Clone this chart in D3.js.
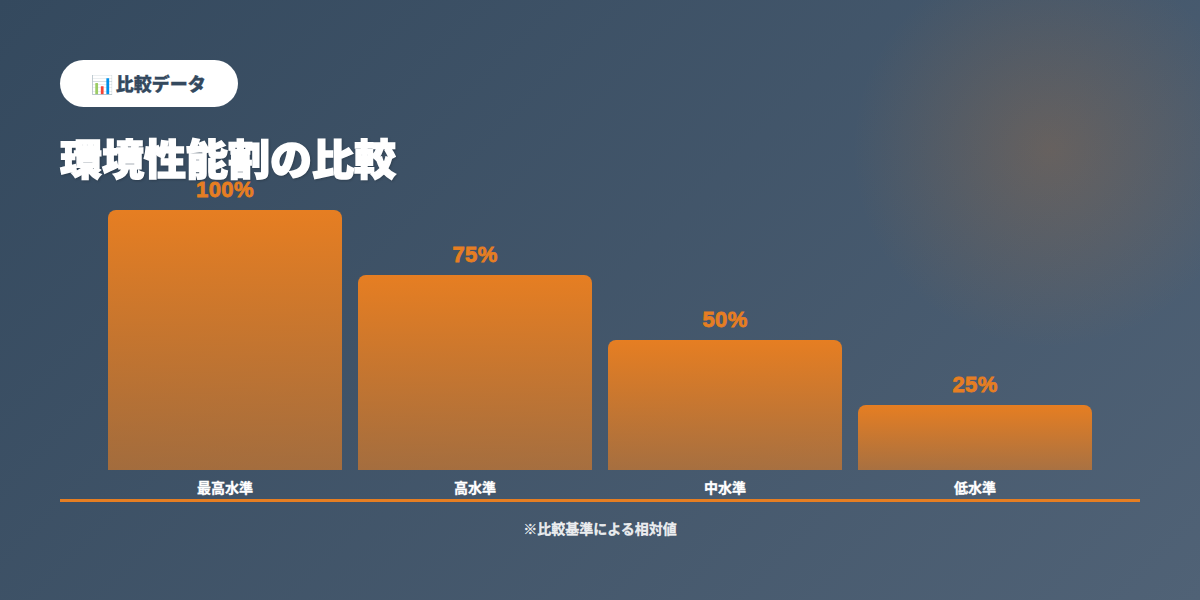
<!DOCTYPE html>
<html lang="ja">
<head>
<meta charset="utf-8">
<script src="https://cdn.jsdelivr.net/npm/d3@7"></script>
<style>
  html, body { margin: 0; padding: 0; background: #3a4f66; }
  svg { display: block; font-family: "Liberation Sans", "Noto Sans CJK JP", sans-serif; }
</style>
</head>
<body>
<svg id="chart"></svg>
<script>
const categories = ['最高水準', '高水準', '中水準', '低水準']
const values = [100, 75, 50, 25]
const valueLabels = ['100%', '75%', '50%', '25%']
const badgeText = '📊 比較データ'
const titleText = '環境性能割の比較'
const noteText = '※比較基準による相対値'

const width = 1200
const height = 600
const orange = '#e67e22'

const svg = d3.select('#chart')
  .attr('width', width)
  .attr('height', height)
  .attr('viewBox', [0, 0, width, height])

const defs = svg.append('defs')

// page background
const bg = defs.append('linearGradient')
  .attr('id', 'bg')
  .attr('gradientUnits', 'userSpaceOnUse')
  .attr('x1', 150).attr('y1', -150)
  .attr('x2', 1050).attr('y2', 750)
bg.append('stop').attr('offset', 0).attr('stop-color', '#34495e')
bg.append('stop').attr('offset', 1).attr('stop-color', '#506276')

const glow = defs.append('radialGradient')
  .attr('id', 'glow')
  .attr('gradientUnits', 'userSpaceOnUse')
  .attr('cx', 1050).attr('cy', 150).attr('r', 283)
glow.append('stop').attr('offset', 0).attr('stop-color', orange).attr('stop-opacity', 0.2)
glow.append('stop').attr('offset', 0.7).attr('stop-color', orange).attr('stop-opacity', 0)

const barFill = defs.append('linearGradient')
  .attr('id', 'barFill')
  .attr('x1', 0).attr('y1', 0)
  .attr('x2', 0).attr('y2', 1)
barFill.append('stop').attr('offset', 0).attr('stop-color', orange)
barFill.append('stop').attr('offset', 1).attr('stop-color', orange).attr('stop-opacity', 0.6)

svg.append('rect').attr('width', width).attr('height', height).attr('fill', 'url(#bg)')
svg.append('rect').attr('width', width).attr('height', height).attr('fill', 'url(#glow)')

const x = d3.scaleBand()
  .domain(categories)
  .range([108, 1092])
  .paddingInner(0.064)
  .paddingOuter(0)

const y = d3.scaleLinear()
  .domain([0, 100])
  .range([470, 210])

const r = 8
const barPath = (d, i) => {
  const x0 = x(categories[i])
  const x1 = x0 + x.bandwidth()
  const top = y(d)
  const p = d3.path()
  p.moveTo(x0, y(0))
  p.lineTo(x0, top + r)
  p.arcTo(x0, top, x0 + r, top, r)
  p.lineTo(x1 - r, top)
  p.arcTo(x1, top, x1, top + r, r)
  p.lineTo(x1, y(0))
  p.closePath()
  return p.toString()
}

svg.selectAll('path.bar')
  .data(values)
  .join('path')
  .attr('class', 'bar')
  .attr('fill', 'url(#barFill)')
  .attr('d', barPath)

svg.selectAll('text.value')
  .data(values)
  .join('text')
  .attr('class', 'value')
  .attr('x', (d, i) => x(categories[i]) + x.bandwidth() / 2)
  .attr('y', d => y(d) - 13)
  .attr('text-anchor', 'middle')
  .attr('fill', orange)
  .attr('stroke', orange)
  .attr('stroke-width', 0.8)
  .style('font-size', '22px')
  .style('font-weight', 900)
  .style('letter-spacing', '0.4px')
  .text((d, i) => valueLabels[i])

// category labels
const axis = svg.append('g')
  .attr('transform', `translate(0,${y(0)})`)
  .call(d3.axisBottom(x).tickSize(0).tickPadding(13))
axis.select('.domain').remove()
axis.selectAll('text')
  .attr('fill', '#fff')
  .attr('stroke', '#fff')
  .attr('stroke-width', 0.3)
  .style('font-family', '"Noto Sans CJK JP", sans-serif')
  .style('font-size', '14px')
  .style('font-weight', 700)

svg.append('rect')
  .attr('x', 60).attr('y', 499)
  .attr('width', 1080).attr('height', 3)
  .attr('fill', orange)

svg.append('text')
  .attr('x', 600).attr('y', 534)
  .attr('text-anchor', 'middle')
  .attr('fill', '#fff')
  .attr('fill-opacity', 0.9)
  .attr('stroke', '#fff')
  .attr('stroke-opacity', 0.9)
  .attr('stroke-width', 0.3)
  .style('font-family', '"Noto Sans CJK JP", sans-serif')
  .style('font-size', '14px')
  .style('font-weight', 700)
  .text(noteText)

// badge
svg.append('rect')
  .attr('x', 60).attr('y', 60)
  .attr('width', 178).attr('height', 47)
  .attr('rx', 23.5)
  .attr('fill', '#fff')

svg.append('text')
  .attr('x', 148.5).attr('y', 91)
  .attr('text-anchor', 'middle')
  .attr('fill', '#34495e')
  .attr('stroke', '#34495e')
  .attr('stroke-width', 0.3)
  .style('font-family', '"Liberation Sans", "Noto Sans CJK JP", "Noto Color Emoji", sans-serif')
  .style('font-size', '18px')
  .style('font-weight', 900)
  .style('word-spacing', '-3px')
  .text(badgeText)

// title
svg.append('text')
  .attr('x', 60).attr('y', 175)
  .attr('fill', '#fff')
  .attr('stroke', '#fff')
  .attr('stroke-width', 1.5)
  .style('font-family', '"Noto Sans CJK JP", sans-serif')
  .style('font-size', '42px')
  .style('font-weight', 900)
  .style('filter', 'drop-shadow(1px 1px 1px rgba(0,0,0,0.2))')
  .text(titleText)
</script>
</body>
</html>
